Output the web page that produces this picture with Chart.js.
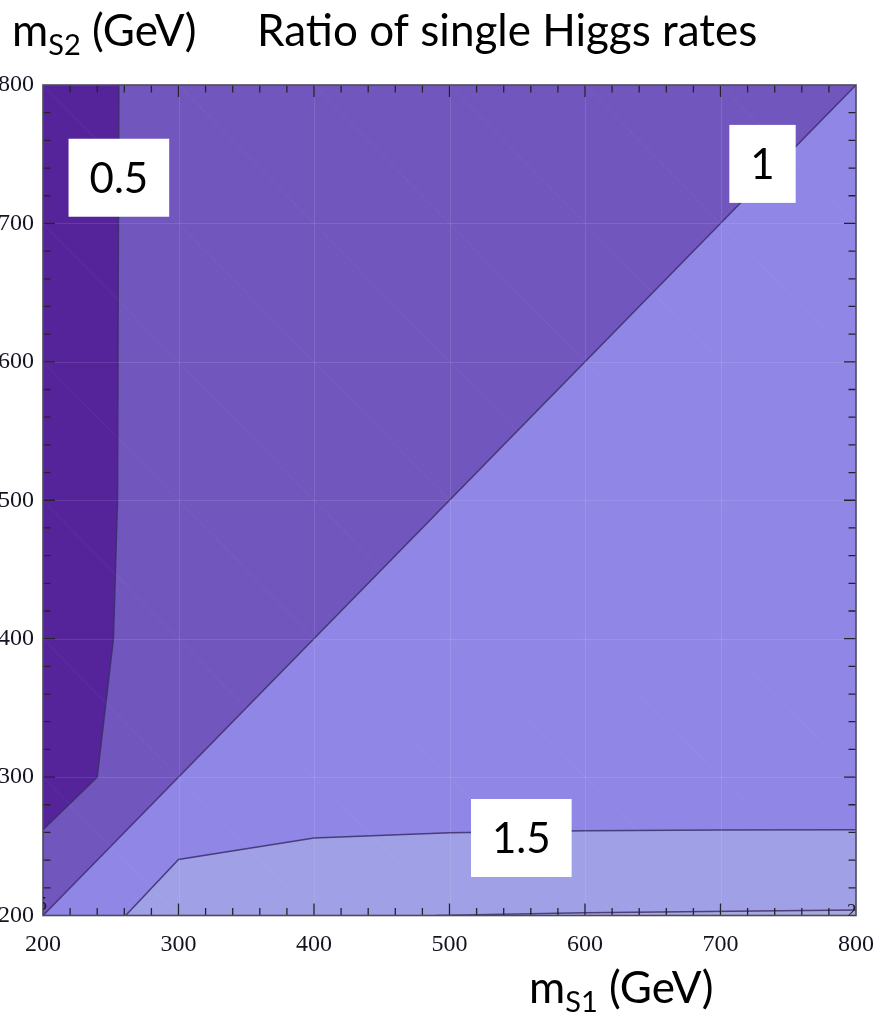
<!DOCTYPE html>
<html>
<head>
<meta charset="utf-8">
<script src="https://cdn.jsdelivr.net/npm/chart.js@4.4.1/dist/chart.umd.min.js"></script>
<style>
  html, body { margin: 0; padding: 0; background: #ffffff; overflow: hidden; }
  #wrap { position: relative; width: 877px; height: 1018px; }
</style>
</head>
<body>
<div id="wrap"><canvas id="c" width="877" height="1018"></canvas></div>
<script>
// Axis ticks (GeV) for both masses
const massTicks = [200, 300, 400, 500, 600, 700, 800];

// Contour lines of the single-Higgs rate ratio, vertices as [m_S1, m_S2]
const contour05 = [[256, 800], [255, 500], [252, 400], [246, 350], [240, 300], [200, 262]];
const contour1  = [[200, 200], [800, 800]];
const contour15 = [[261, 200], [300, 240.5], [400, 256], [500, 259.8], [600, 261.3], [700, 261.8], [800, 262]];
const contour2  = [[490, 200], [600, 202], [800, 204]];

// Boxed contour labels and where they sit (m_S1, m_S2)
const contourLabels = ['0.5', '1', '1.5'];
const labelMS1 = [256, 731, 553];
const labelMS2 = [733, 743, 256];

const toPts = arr => arr.map(([x, y]) => ({ x, y }));

function region(points, color, order) {
  return {
    data: toPts(points), showLine: true, fill: 'shape', tension: 0,
    backgroundColor: color, borderColor: 'rgba(0,0,0,0)', borderWidth: 0,
    pointRadius: 0, pointHoverRadius: 0, order
  };
}
function contourLine(points) {
  return {
    data: toPts(points), showLine: true, fill: false, tension: 0,
    borderColor: 'rgba(58,46,104,0.85)', borderWidth: 1.5,
    pointRadius: 0, pointHoverRadius: 0, order: 1
  };
}

// filled bands, bottom to top
const datasets = [
  region([[200, 200], [800, 200], [800, 800], [200, 800]], '#7156be', 10),   // 0.5 – 1
  region([...contour1, [800, 200]], '#8f86e6', 9),                             // 1 – 1.5
  region([...contour15, [800, 200]], '#a0a0e6', 8),                            // 1.5 – 2
  region([...contour2, [800, 200]], '#a7a9dc', 7),                             // > 2
  region([...contour05, [200, 800]], '#56249a', 6),                            // < 0.5
  contourLine(contour05), contourLine(contour1), contourLine(contour15), contourLine(contour2)
];

const tickFont = { family: '"Liberation Serif", "DejaVu Serif", serif', size: 24 };
const titleFont = '44px Lato, "Open Sans", sans-serif';
const subFont = '29px Lato, "Open Sans", sans-serif';

// frame, inward ticks and the faint mesh lines of the contour plot
const frameTicks = {
  id: 'frameTicks',
  afterDatasetsDraw(chart) {
    const { ctx, chartArea: a, scales: { x, y } } = chart;
    ctx.save();
    ctx.beginPath();
    ctx.rect(a.left, a.top, a.right - a.left, a.bottom - a.top);
    ctx.clip();
    ctx.lineWidth = 1;
    ctx.strokeStyle = 'rgba(255,255,255,0.1)';
    ctx.beginPath();
    massTicks.slice(1, -1).forEach(v => {
      const px = Math.round(x.getPixelForValue(v)) + 0.5;
      const py = Math.round(y.getPixelForValue(v)) + 0.5;
      ctx.moveTo(px, a.top); ctx.lineTo(px, a.bottom);
      ctx.moveTo(a.left, py); ctx.lineTo(a.right, py);
    });
    ctx.stroke();
    ctx.strokeStyle = 'rgba(255,255,255,0.055)';
    ctx.beginPath();
    for (let s = 500; s <= 1500; s += 100) {
      const x0 = Math.max(200, s - 800), x1 = Math.min(800, s - 200);
      ctx.moveTo(x.getPixelForValue(x0), y.getPixelForValue(s - x0));
      ctx.lineTo(x.getPixelForValue(x1), y.getPixelForValue(s - x1));
    }
    ctx.stroke();
    ctx.restore();

    // inward ticks on all four sides
    ctx.save();
    ctx.strokeStyle = '#26222e';
    ctx.lineWidth = 1.3;
    ctx.beginPath();
    for (let v = 220; v < 800; v += 20) {
      const len = v % 100 === 0 ? 12 : 7.5;
      const px = x.getPixelForValue(v);
      const py = y.getPixelForValue(v);
      ctx.moveTo(px, a.bottom); ctx.lineTo(px, a.bottom - len);
      ctx.moveTo(px, a.top); ctx.lineTo(px, a.top + len);
      ctx.moveTo(a.left, py); ctx.lineTo(a.left + len, py);
      ctx.moveTo(a.right, py); ctx.lineTo(a.right - len, py);
    }
    ctx.stroke();
    ctx.strokeStyle = '#4d4a5c';
    ctx.lineWidth = 1.6;
    ctx.strokeRect(a.left, a.top, a.right - a.left, a.bottom - a.top);

    // small clipped contour labels at the plot edge
    ctx.beginPath();
    ctx.rect(a.left, a.top, a.right - a.left, a.bottom - a.top);
    ctx.clip();
    ctx.fillStyle = '#1a1a1a';
    ctx.font = '19px "Liberation Serif", serif';
    ctx.textAlign = 'left';
    ctx.textBaseline = 'alphabetic';
    ctx.fillText('2', a.right - 9, a.bottom + 1);
    ctx.textAlign = 'right';
    ctx.fillText('5', a.left + 4, a.bottom - 6);
    ctx.restore();
  },
  afterDraw(chart) {
    const { ctx, scales: { x, y } } = chart;
    ctx.save();
    // boxed contour values
    ctx.font = '42px Lato, "Open Sans", sans-serif';
    ctx.textAlign = 'center';
    ctx.textBaseline = 'alphabetic';
    contourLabels.forEach((t, i) => {
      const cx = x.getPixelForValue(labelMS1[i]);
      const cy = y.getPixelForValue(labelMS2[i]);
      const w = ctx.measureText(t).width + 42;
      const h = 78;
      ctx.fillStyle = '#ffffff';
      ctx.fillRect(cx - w / 2, cy - h / 2, w, h);
      ctx.fillStyle = '#000000';
      ctx.fillText(t, cx, cy + 15);
    });

    // axis titles: m with subscript, then (GeV)
    function massTitle(x0, base, sub, tail) {
      ctx.textAlign = 'left';
      ctx.fillStyle = '#000000';
      ctx.font = titleFont;
      ctx.fillText('m', x0, base);
      let xx = x0 + ctx.measureText('m').width;
      ctx.font = subFont;
      ctx.fillText(sub, xx, base + 9);
      xx += ctx.measureText(sub).width;
      ctx.font = titleFont;
      ctx.fillText(tail, xx, base);
    }
    massTitle(12, 46, 'S2', ' (GeV)');
    ctx.font = titleFont;
    ctx.fillText('Ratio of single Higgs rates', 257, 46);
    massTitle(529, 1003, 'S1', ' (GeV)');
    ctx.restore();
  }
};

new Chart(document.getElementById('c'), {
  type: 'scatter',
  data: { datasets },
  options: {
    responsive: false,
    animation: false,
    devicePixelRatio: 1,
    events: [],
    layout: { padding: { top: 85, right: 21, left: 0, bottom: 0 } },
    plugins: { legend: { display: false }, tooltip: { enabled: false }, title: { display: false } },
    scales: {
      x: {
        type: 'linear', min: 200, max: 800,
        afterBuildTicks: s => { s.ticks = massTicks.map(v => ({ value: v })); },
        afterFit: s => { s.height = 102.5; s.paddingLeft = 0; s.paddingRight = 0; },
        ticks: { font: tickFont, color: '#141420', padding: 15, autoSkip: false, maxRotation: 0 },
        grid: { display: false, drawTicks: false },
        border: { display: false }
      },
      y: {
        type: 'linear', min: 200, max: 800,
        afterBuildTicks: s => { s.ticks = massTicks.map(v => ({ value: v })); },
        afterFit: s => { s.width = 43; s.paddingTop = 0; s.paddingBottom = 0; },
        ticks: { font: tickFont, color: '#141420', padding: 9, autoSkip: false },
        grid: { display: false, drawTicks: false },
        border: { display: false }
      }
    }
  },
  plugins: [frameTicks]
});
</script>
</body>
</html>
